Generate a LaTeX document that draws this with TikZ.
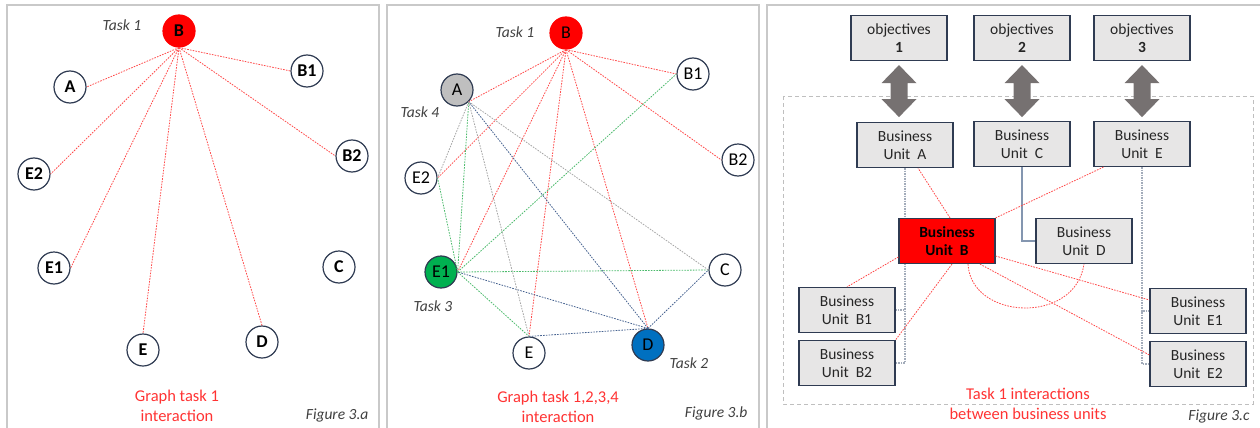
\documentclass[tikz,border=0pt]{standalone}
\usepackage{fontspec}
\setmainfont{Carlito}
\usetikzlibrary{calc}

\definecolor{navy}{HTML}{2F3B52}
\definecolor{boxgray}{HTML}{E7E6E6}
\definecolor{arrowgray}{HTML}{767171}
\definecolor{framegray}{HTML}{C9C9C9}
\definecolor{dashgray}{HTML}{BFBFBF}
\definecolor{linkred}{HTML}{FF4A4A}
\definecolor{linkgreen}{HTML}{4CBB6C}
\definecolor{linkblue}{HTML}{44618F}
\definecolor{linkgray}{HTML}{A5A5A5}
\definecolor{stubgray}{HTML}{A3ACBA}
\definecolor{steelblue}{HTML}{8496B0}
\definecolor{capred}{HTML}{FF3333}
\definecolor{taskgray}{HTML}{BFBFBF}
\definecolor{taskgreen}{HTML}{00B050}
\definecolor{taskblue}{HTML}{0070C0}

\begin{document}
\begin{tikzpicture}[x=1pt,y=-1pt,
  every node/.style={font=\fontsize{15}{18}\selectfont, text=black!85},
  unit/.style={circle, draw=navy, line width=1.2pt, fill=white, minimum size=32pt, inner sep=0pt,
    text=black, font=\fontsize{18}{19}\selectfont},
  bunit/.style={unit, font=\fontsize{18}{19}\selectfont\bfseries},
  task/.style={text=black!75, font=\fontsize{15.5}{17}\selectfont\itshape},
  caption/.style={text=capred, align=center, font=\fontsize{16.5}{20}\selectfont},
  figlabel/.style={anchor=east, text=black!75, font=\fontsize{15.5}{17}\selectfont\itshape},
  link/.style={line width=0.8pt, dash pattern=on 1.6pt off 1.2pt},
  stub/.style={stubgray, line width=1.3pt, dash pattern=on 1.5pt off 1pt},
  bubox/.style={draw=navy, line width=1.2pt, fill=boxgray, minimum width=96pt, minimum height=45pt,
    inner sep=1pt, align=center, font=\fontsize{15.5}{18}\selectfont},
]
\useasboundingbox (0,0) rectangle (1260,428);

% figure 3.a
\draw[framegray, line width=1.2pt] (7,5) rectangle (379,440);
\node[bunit, fill=red, draw=red] (aB) at (179,31) {B};
\node[task] (aT1) at (122,25) {Task 1};
\node[bunit] (aA) at (70,87) {A};
\node[bunit] (aB1) at (307,71) {B1};
\node[bunit] (aB2) at (352,156) {B2};
\node[bunit] (aE2) at (34,174) {E2};
\node[bunit] (aE1) at (54,268) {E1};
\node[bunit] (aC) at (339,267) {C};
\node[bunit] (aE) at (143,350) {E};
\node[bunit] (aD) at (262,342) {D};
\node[caption] (acap) at (177,406) {Graph task 1\\interaction};
\node[figlabel] (afig) at (372,415) {Figure 3.a};
\foreach \n/\a in {A/east, B1/west, B2/west, E2/east, E1/east, E/north, D/north}
  \draw[link, linkred] (aB.south) -- (a\n.\a);

% figure 3.b
\draw[framegray, line width=1.2pt] (387,5) rectangle (759,440);
\node[unit, fill=red, draw=red] (bB) at (566,33) {B};
\node[task] (bT1) at (515,32) {Task 1};
\node[unit, fill=taskgray] (bA) at (457,90) {A};
\node[task] (bT4) at (420,112) {Task 4};
\node[unit] (bB1) at (693,74) {B1};
\node[unit] (bB2) at (738,160) {B2};
\node[unit] (bE2) at (421,178) {E2};
\node[unit, fill=taskgreen] (bE1) at (441,272) {E1};
\node[task] (bT3) at (433,306) {Task 3};
\node[unit] (bC) at (725,270) {C};
\node[unit] (bE) at (529,353) {E};
\node[unit, fill=taskblue] (bD) at (648,345) {D};
\node[task] (bT2) at (689,363) {Task 2};
\node[caption] (bcap) at (558,407) {Graph task 1,2,3,4\\interaction};
\node[figlabel] (bfig) at (751,413) {Figure 3.b};
\foreach \n/\a in {A/south east, B1/west, B2/west, E2/east, E1/east, E/north, D/north}
  \draw[link, linkred] (bB.south) -- (b\n.\a);
\foreach \n/\a in {A/south east, E2/east, B1/west, C/west, E/north}
  \draw[link, linkgreen] (bE1.east) -- (b\n.\a);
\foreach \n/\a in {A/south east, E1/east, E/north, C/west}
  \draw[link, linkblue] (bD.north) -- (b\n.\a);
\foreach \n/\a in {E2/east, E/north, C/west}
  \draw[link, linkgray] (bA.south east) -- (b\n.\a);

% figure 3.c
\draw[framegray, line width=1.2pt] (767,5) rectangle (1265,440);
\draw[dashgray, line width=1pt, dash pattern=on 4pt off 3pt] (783,96) rectangle (1253,404);
\node[bubox] (o1) at (899,38) {objectives\\\textbf{1}};
\node[bubox] (o2) at (1022,38) {objectives\\\textbf{2}};
\node[bubox] (o3) at (1142,38) {objectives\\\textbf{3}};
\foreach \i in {1,2,3}
  \fill[arrowgray, shift={(o\i.south)}] (0,4) -- (17.5,22) -- (8.5,22) -- (8.5,38) -- (17.5,38)
    -- (0,56) -- (-17.5,38) -- (-8.5,38) -- (-8.5,22) -- (-17.5,22) -- cycle;
\node[bubox] (uA) at (905,145) {Business\\Unit~ A};
\node[bubox] (uC) at (1022,144) {Business\\Unit~ C};
\node[bubox] (uE) at (1142,144) {Business\\Unit~ E};
\node[bubox] (uB1) at (847,310) {Business\\Unit~ B1};
\node[bubox] (uB2) at (847,363) {Business\\Unit~ B2};
\node[bubox] (uE1) at (1198,311) {Business\\Unit~ E1};
\node[bubox] (uE2) at (1198,364) {Business\\Unit~ E2};
\draw[stub] (uA.south) |- (uB1.east);
\draw[stub] (uA.south) |- (uB2.east);
\draw[stub] (uE.south) |- (uE1.west);
\draw[stub] (uE.south) |- (uE2.west);
\draw[steelblue, line width=1.2pt] (uC.south) |- (1035,241);
\node[bubox, fill=red, text=black, font=\fontsize{15.5}{18}\selectfont\bfseries] (uB) at (947,241) {Business\\Unit~ B};
\node[bubox] (uD) at (1084,241) {Business\\Unit~ D};
\draw[link, linkred] ([xshift=3pt]uB.north) -- ([xshift=13pt]uA.south);
\draw[link, linkred] (uB.north east) -- ([xshift=10pt]uE.south west);
\draw[link, linkred] ([yshift=-16pt]uB.west) -- (uB1.north);
\draw[link, linkred] ([xshift=5pt]uB.south) -- (uB2.north east);
\draw[link, linkred] ([yshift=-15pt]uB.east) -- ([yshift=11pt]uE1.west);
\draw[link, linkred] ([xshift=33pt]uB.south) -- ([yshift=9pt]uE2.west);
\draw[link, linkred] ([xshift=21pt]uB.south) .. controls +(3,56) and +(-9,61) .. (uD.south);
\node[caption] (ccap) at (1028,404) {Task 1 interactions\\between business units};
\node[figlabel] (cfig) at (1253,416) {Figure 3.c};
\end{tikzpicture}
\end{document}
